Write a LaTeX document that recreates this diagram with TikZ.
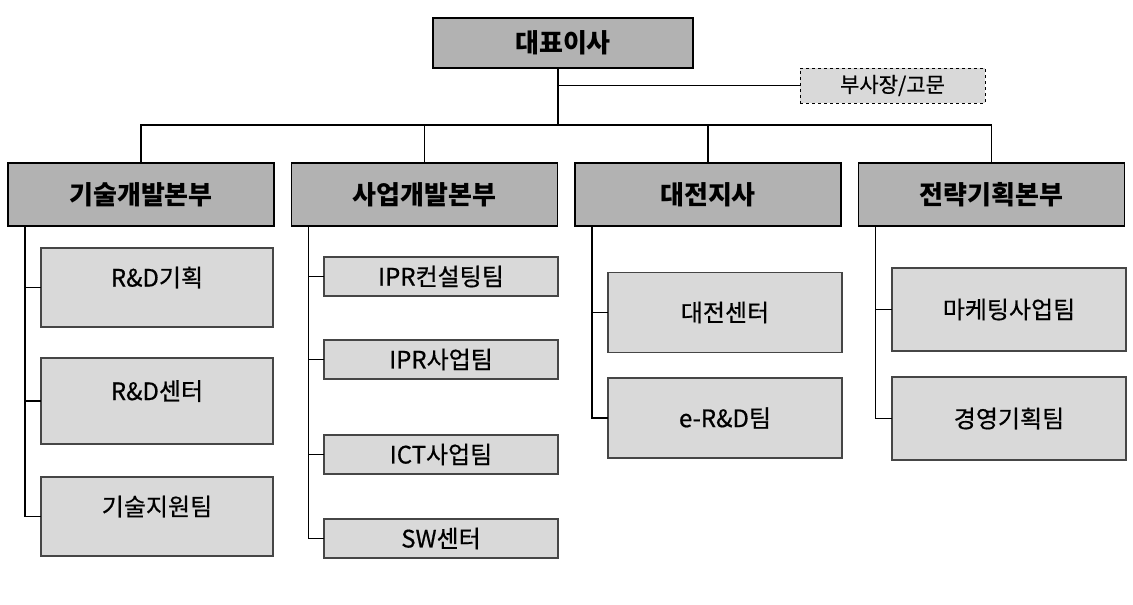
\documentclass[tikz,border=0pt]{standalone}
\usepackage{fontspec}
\setmainfont{Noto Sans CJK KR}
\newfontfamily\teamfont{Noto Sans CJK KR}[FakeBold=0.6]
\usetikzlibrary{calc}
\definecolor{headgray}{RGB}{178,178,178}
\definecolor{teamgray}{RGB}{217,217,217}
\definecolor{edgegray}{RGB}{70,70,70}

\begin{document}
\begin{tikzpicture}[x=1pt,y=-1pt,line width=1.1pt]
    \tikzstyle{boss}=[draw=black,fill=headgray,inner sep=0pt,outer sep=0pt,font=\fontsize{26}{28}\selectfont\bfseries]
    \tikzstyle{head}=[boss,minimum width=266pt,minimum height=63pt]
    \tikzstyle{team}=[draw=edgegray,fill=teamgray,inner sep=0pt,outer sep=0pt,line width=1.4pt,font=\teamfont\fontsize{24}{26}\selectfont]
    \useasboundingbox (0,0) rectangle (1133,605);

    \node[boss,minimum width=260pt,minimum height=50pt] (ceo) at (563,43) {대표이사};
    \node[team,dashed,draw=black,line width=0.8pt,minimum width=185pt,minimum height=35pt,font=\teamfont\fontsize{21}{23}\selectfont] (vp) at (892.5,85.5) {부사장/고문};

    \foreach \name/\x/\txt in {h1/141/기술개발본부, h2/424.5/사업개발본부, h3/708/대전지사, h4/991.5/전략기획본부}
            \node[head] (\name) at (\x,194.5) {\txt};

    \coordinate (bus) at (558,125);
    \draw (bus |- ceo.south) -- (bus);
    \draw (vp.west) -- (vp.west -| bus);
    \foreach \h in {h1,h2,h3,h4}
            \draw (bus) -| (\h.north);

    % teams
    \foreach \name/\y/\ht/\txt in {a1/287.5/79/R\&D기획, a2/401/86/R\&D센터, a3/516.5/79/기술지원팀}
            \node[team,minimum width=232pt,minimum height=\ht pt] (\name) at (157,\y) {\txt};
    \foreach \name/\y/\txt in {b1/276.5/IPR컨설팅팀, b2/359.5/IPR사업팀, b3/454.5/ICT사업팀, b4/538.5/SW센터}
            \node[team,minimum width=234pt,minimum height=39pt] (\name) at (441,\y) {\txt};
    \foreach \name/\y/\txt in {c1/312.5/대전센터, c2/418/e-R\&D팀}
            \node[team,minimum width=234pt,minimum height=80pt] (\name) at (725,\y) {\txt};
    \foreach \name/\y/\txt in {d1/309.5/마케팅사업팀, d2/418.5/경영기획팀}
            \node[team,minimum width=234pt,minimum height=83pt] (\name) at (1009,\y) {\txt};

        \foreach \from/\to in {h1/a1,h1/a2,h1/a3,h2/b1,h2/b2,h2/b3,h2/b4,h3/c1,h3/c2,h4/d1,h4/d2}
            \draw ([xshift=17pt]\from.south west) |- (\to.west);
\end{tikzpicture}
\end{document}
